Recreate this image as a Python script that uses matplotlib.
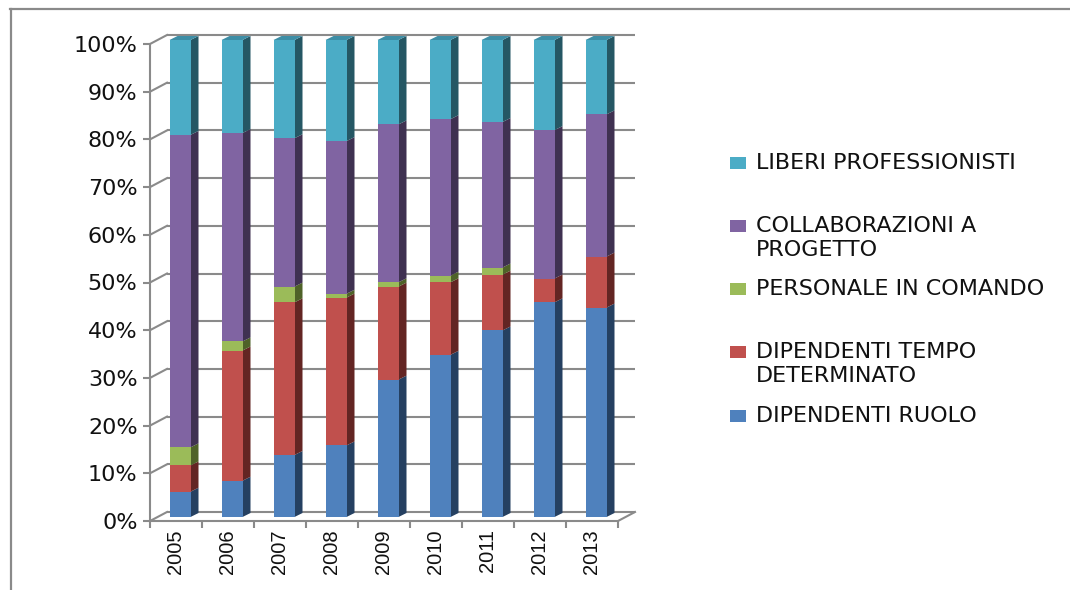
import matplotlib
matplotlib.use('Agg')
import matplotlib.pyplot as plt
import numpy as np
from matplotlib.lines import Line2D
from matplotlib.patches import Rectangle

years = ['2005', '2006', '2007', '2008', '2009', '2010', '2011', '2012', '2013']
dipendenti_ruolo = [5.3, 7.6, 13.0, 15.0, 28.8, 34.0, 39.1, 45.0, 43.9]
dipendenti_tempo = [5.5, 27.3, 32.0, 31.0, 19.5, 15.2, 11.7, 5.0, 10.7]
personale_comando = [3.8, 1.9, 3.3, 0.8, 0.9, 1.4, 1.5, 0.0, 0.0]
collaborazioni = [65.5, 43.7, 31.1, 32.0, 33.1, 32.8, 30.5, 31.1, 29.8]
liberi = [19.9, 19.5, 20.6, 21.2, 17.7, 16.6, 17.2, 18.9, 15.6]
pct_ticks = [0, 10, 20, 30, 40, 50, 60, 70, 80, 90, 100]

W, H = 1070, 590
GRAY = '#8a8a8a'
TEXT = '#111111'

# (valori, colore fronte, colore lato)
series = [
    (dipendenti_ruolo, '#4f81bd', '#254061'),
    (dipendenti_tempo, '#c0504d', '#632523'),
    (personale_comando, '#9bbb59', '#4f6228'),
    (collaborazioni, '#8064a2', '#3f3151'),
    (liberi, '#4bacc6', '#255764'),
]

# legenda: testo, colore, y del marcatore in pixel
legend_rows = [
    ('LIBERI PROFESSIONISTI', '#4bacc6', 163),
    ('COLLABORAZIONI A\nPROGETTO', '#8064a2', 226),
    ('PERSONALE IN COMANDO', '#9bbb59', 289),
    ('DIPENDENTI TEMPO\nDETERMINATO', '#c0504d', 352),
    ('DIPENDENTI RUOLO', '#4f81bd', 416),
]

fig = plt.figure(figsize=(W / 100, H / 100), dpi=100, facecolor='white')
ax = fig.add_axes([150 / W, (H - 521) / H, 468 / W, 477 / H])
ax.set_xlim(-0.5, 8.5)
ax.set_ylim(0, 100)
ax.patch.set_visible(False)

# conversione pixel -> unita dati
px_x = 1 / 52
px_y = 100 / 477
wall_dx, wall_dy = 17 * px_x, 9 * px_y
bar_dx, bar_dy = 8 * px_x, 4 * px_y
bar_w = 21 * px_x

x = np.arange(len(years))
left_wall = -0.5

# parete di fondo e diagonali
for v in pct_ticks:
    ax.plot([left_wall + wall_dx, 8.5 + wall_dx], [v + wall_dy, v + wall_dy],
            color=GRAY, lw=1.5, clip_on=False, zorder=1, solid_capstyle='butt')
    ax.plot([left_wall, left_wall + wall_dx], [v, v + wall_dy],
            color=GRAY, lw=1.5, clip_on=False, zorder=1)
ax.plot([8.5, 8.5 + wall_dx], [0, wall_dy], color=GRAY, lw=1.5, clip_on=False, zorder=1)

# barre: fronte, lato e tappo superiore
bottom = np.zeros(len(years))
for values, front, side in series:
    values = np.array(values)
    bx = x + 4 * px_x
    by = bottom + bar_dy
    ax.bar(bx, values, width=bar_w, bottom=by, color=front, linewidth=0,
           clip_on=False, zorder=3)
    for xi, yi, hi in zip(bx + bar_w / 2, by, values):
        if hi > 0:
            ax.fill([xi, xi + bar_dx, xi + bar_dx, xi],
                    [yi, yi + bar_dy, yi + hi + bar_dy, yi + hi],
                    color=side, lw=0, clip_on=False, zorder=2.5)
    bottom = bottom + values

for xi, top in zip(x + 4 * px_x, bottom + bar_dy):
    ax.fill([xi - bar_w / 2, xi + bar_w / 2, xi + bar_w / 2 + bar_dx, xi - bar_w / 2 + bar_dx],
            [top, top, top + bar_dy, top + bar_dy],
            color='#3d8ea6', lw=0, clip_on=False, zorder=2.5)

# assi
for name in ['top', 'right']:
    ax.spines[name].set_visible(False)
for name in ['left', 'bottom']:
    ax.spines[name].set_color(GRAY)
    ax.spines[name].set_linewidth(1.5)

ax.set_yticks(pct_ticks)
ax.set_yticklabels([f'{v}%' for v in pct_ticks], fontsize=16, color=TEXT,
                   family='DejaVu Sans')
ax.tick_params(axis='y', length=5, width=1.5, color=GRAY, pad=4)

ax.set_xticks(np.arange(-0.5, 9.0, 1.0))
ax.set_xticklabels([])
ax.tick_params(axis='x', which='major', length=5, width=1.5, color=GRAY)
ax.set_xticks(x, minor=True)
ax.set_xticklabels(years, minor=True, rotation=90, fontsize=14.5, color=TEXT,
                   family='Liberation Sans')
ax.tick_params(axis='x', which='minor', length=0, pad=6)

# legenda disegnata a mano, le righe sono distanziate come nell'originale
for label, color, y in legend_rows:
    fig.add_artist(Rectangle((730 / W, 1 - (y + 6) / H), 16 / W, 12 / H,
                             transform=fig.transFigure, facecolor=color, linewidth=0))
    fig.text(756 / W, 1 - (y - 10) / H, label, fontsize=16, color=TEXT, va='top', ha='left',
             family='DejaVu Sans', linespacing=1.27)

# cornice
fig.add_artist(Line2D([10.5 / W, 10.5 / W], [0, 1 - 9 / H], color=GRAY, lw=1.6))
fig.add_artist(Line2D([10 / W, 1], [1 - 9 / H, 1 - 9 / H], color=GRAY, lw=1.6))

fig.savefig('out.png', dpi=100, facecolor='white')
